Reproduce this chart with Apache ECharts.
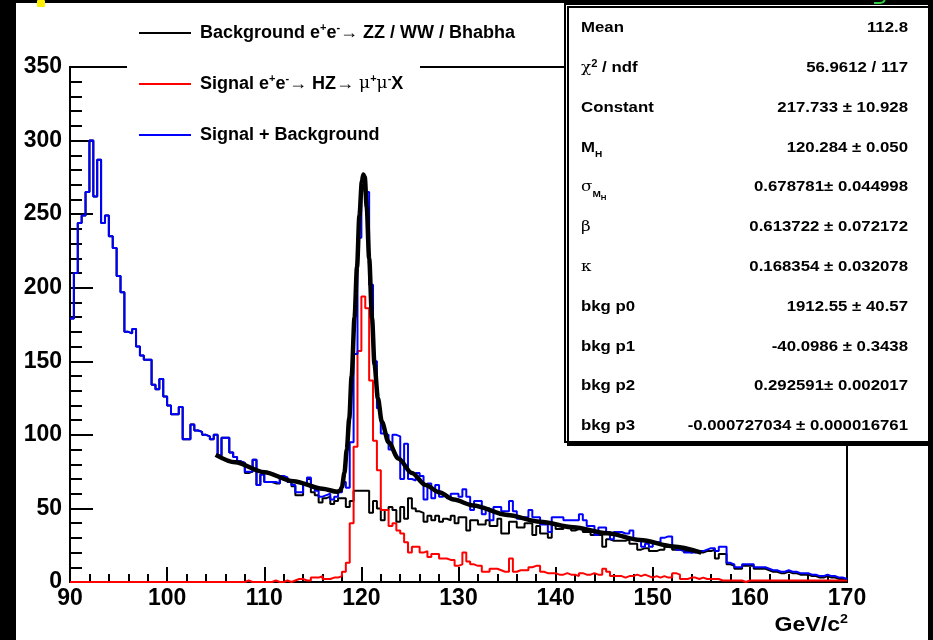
<!DOCTYPE html>
<html>
<head>
<meta charset="utf-8">
<script src="https://cdn.jsdelivr.net/npm/echarts@6/dist/echarts.min.js"></script>
<style>
  html, body { margin: 0; padding: 0; background: #000; width: 933px; height: 640px; overflow: hidden; }
  body { position: relative; }
  #chart { position: absolute; left: 16px; top: 3px; width: 912px; height: 637px; }
  #dotY { position: absolute; left: 37px; top: 0; width: 8px; height: 7px; background: #ffef00; border-radius: 1px; z-index: 5; }
  #dotG { position: absolute; left: 874px; top: -6px; width: 10px; height: 8px; border: 2px solid #2ecc40; border-top: none; border-left: none; border-radius: 0 0 6px 0; z-index: 5; }
</style>
</head>
<body>
<div id="chart"></div>
<div id="dotY"></div>
<div id="dotG"></div>
<script>
// Dimuon recoil mass histograms, 0.4 GeV bins from 90 to 170 GeV/c^2
const massLow = 90;
const binWidth = 0.4;

// Signal + Background (blue)
const combined = [
  179, 210, 244, 249, 265, 300, 262, 287, 244, 249,
  235, 227, 208, 197, 170, 169, 172, 160, 154, 151,
  151, 134, 131, 138, 126, 120, 114, 114, 119, 97,
  97, 107, 103, 102, 100, 99, 97, 100, 86, 98,
  98, 88, 85, 82, 81, 75, 75, 83, 66, 73,
  68, 68, 68, 67, 72, 71, 68, 66, 61, 61,
  67, 71, 64, 62, 58, 59, 60, 56, 58, 61,
  68, 64, 95, 155, 234, 272, 265, 202, 150, 118,
  101, 100, 90, 100, 99, 70, 94, 70, 69, 74,
  72, 56, 67, 57, 66, 58, 59, 57, 60, 60,
  58, 63, 58, 49, 55, 55, 46, 50, 42, 51,
  51, 48, 48, 55, 48, 43, 44, 44, 49, 44,
  44, 39, 39, 34, 44, 44, 44, 42, 42, 42,
  42, 46, 42, 38, 38, 32, 37, 37, 34, 29,
  34, 34, 33, 33, 35, 29, 29, 24, 26, 24,
  27, 27, 30, 31, 31, 24, 22, 22, 20, 20,
  20, 21, 21, 22, 23, 23, 21, 24, 24, 13,
  12, 10, 10, 12, 12, 12, 10, 10, 10, 9,
  8, 8, 7, 7, 8, 7, 7, 6, 6, 6,
  5, 5, 4, 4, 5, 4, 4, 3, 3, 2
];

// Background e+e- -> ZZ / WW / Bhabha (black)
const background = [
  179, 210, 244, 249, 265, 300, 262, 287, 244, 249,
  235, 227, 208, 197, 170, 169, 172, 160, 154, 151,
  151, 134, 131, 138, 126, 120, 114, 114, 119, 97,
  97, 107, 103, 102, 100, 99, 97, 100, 86, 98,
  98, 88, 85, 82, 81, 74, 75, 83, 66, 73,
  68, 68, 67, 67, 72, 70, 68, 65, 59, 59,
  66, 70, 61, 59, 54, 57, 58, 53, 55, 57,
  57, 51, 55, 62, 62, 62, 62, 47, 55, 50,
  42, 49, 51, 49, 41, 51, 43, 57, 50, 48,
  47, 41, 45, 42, 45, 41, 43, 42, 45, 40,
  44, 44, 35, 42, 42, 39, 39, 42, 38, 38,
  43, 33, 33, 41, 41, 37, 37, 40, 40, 32,
  38, 33, 33, 30, 39, 36, 36, 38, 38, 35,
  36, 36, 34, 34, 32, 32, 32, 24, 29, 28,
  28, 28, 28, 29, 26, 26, 22, 23, 23, 21,
  21, 22, 22, 24, 24, 22, 22, 21, 21, 20,
  21, 20, 20, 21, 21, 22, 16, 19, 19, 12,
  11, 9, 9, 11, 11, 11, 9, 9, 9, 8,
  7, 7, 6, 6, 7, 6, 6, 5, 5, 5,
  4, 4, 3, 3, 4, 3, 3, 2, 2, 2
];

// Signal e+e- -> HZ -> mu+ mu- X (red)
const signal = [
  0, 0, 0, 0, 0, 0, 0, 0, 0, 0,
  0, 0, 0, 0, 0, 0, 0, 0, 0, 0,
  0, 0, 0, 0, 0, 0, 0, 0, 0, 0,
  0, 0, 0, 0, 0, 0, 0, 0, 0, 0,
  0, 0, 0, 0, 0, 1, 0, 0, 0, 0,
  0, 0, 1, 0, 0, 1, 0, 1, 2, 2,
  1, 1, 3, 3, 4, 2, 2, 3, 3, 4,
  7, 13, 40, 92, 157, 194, 186, 137, 96, 76,
  49, 49, 38, 40, 35, 33, 27, 20, 24, 24,
  20, 21, 17, 19, 19, 16, 16, 15, 15, 11,
  12, 20, 14, 12, 11, 11, 7, 7, 9, 9,
  8, 7, 7, 16, 7, 8, 8, 8, 10, 11,
  11, 7, 6, 6, 6, 5, 5, 6, 5, 5,
  4, 6, 5, 5, 6, 5, 5, 9, 7, 4,
  4, 4, 3, 4, 4, 5, 4, 5, 4, 3,
  4, 3, 4, 3, 3, 6, 5, 2, 2, 3,
  3, 2, 3, 2, 2, 2, 2, 1, 1, 1,
  1, 1, 1, 0, 1, 1, 1, 1, 1, 1,
  1, 1, 1, 1, 1, 1, 1, 1, 1, 1,
  1, 1, 1, 1, 1, 1, 1, 1, 1, 1
];

// Fitted signal + polynomial background, 105-155 GeV/c^2
const fitMass = [105, 107, 110, 113, 116, 117.5, 117.8, 118.0, 118.25, 118.5, 118.75, 119.0, 119.3, 119.55, 119.8,
  120.05, 120.2, 120.35, 120.55, 120.8, 121.1, 121.35, 121.7, 122.1, 122.8, 123.8, 125.2, 126.6, 128, 129.5,
  131.5, 135, 138.4, 141.8, 145.3, 148.7, 152.1, 155];
const fitCount = [86.4, 81.3, 74.6, 68.5, 63.4, 61.3, 62, 64.5, 74, 90, 111, 140, 180, 214, 249,
  272, 277, 275, 255, 220, 179, 148, 125, 109, 95, 84, 74, 66, 61, 56,
  52, 45.6, 41, 37.2, 33.1, 28.6, 24.2, 20];

// Legend entries
const seriesNames = ['Background', 'Signal', 'Signal + Background'];
const legendTexts = [
  'Background e{sup|+}e{sup|-}\u2192 ZZ / WW / Bhabha',
  'Signal e{sup|+}e{sup|-}\u2192 HZ\u2192 {mu|\u03bc}{sup|+}{mu|\u03bc}{sup|-}X',
  'Signal + Background'
];

// Fit statistics panel
const statLabels = [
  'Mean',
  '{sym|\u03c7}{sup|2} / ndf',
  'Constant',
  'M{sub|H}',
  '{sym|\u03c3}{sub|M}{subsub|H}',
  '{sym|\u03b2}',
  '{sym|\u03ba}',
  'bkg p0',
  'bkg p1',
  'bkg p2',
  'bkg p3'
];
const statValues = [
  '112.8',
  '56.9612 / 117',
  '217.733 \u00b1 10.928',
  '120.284 \u00b1 0.050',
  '0.678781\u00b1 0.044998',
  '0.613722 \u00b1 0.072172',
  '0.168354 \u00b1 0.032078',
  '1912.55 \u00b1 40.57',
  '-40.0986 \u00b1 0.3438',
  '0.292591\u00b1 0.002017',
  '-0.000727034 \u00b1 0.000016761'
];

const axisTitle = 'GeV/c{sup|2}';

const FONT = 'Liberation Sans, Arial, Helvetica, sans-serif';
const SYMBOL_FONT = 'DejaVu Serif, Liberation Serif, serif';

function histPoints(values) {
  const pts = values.map((v, i) => [+(massLow + i * binWidth).toFixed(1), v]);
  pts.push([+(massLow + values.length * binWidth).toFixed(1), values[values.length - 1]]);
  return pts;
}

function histSeries(name, values, color, z) {
  return {
    name: name,
    type: 'line',
    step: 'end',
    data: histPoints(values),
    symbol: 'none',
    color: color,
    itemStyle: { color: color },
    lineStyle: { color: color, width: 2 },
    z: z,
    clip: true,
    silent: true,
    animation: false
  };
}

const chart = echarts.init(document.getElementById('chart'), null, { renderer: 'canvas' });

const statTextRich = {
  sym: { fontFamily: SYMBOL_FONT, fontSize: 15, fontWeight: 'normal', lineHeight: 18, verticalAlign: 'middle' },
  sup: { fontFamily: FONT, fontSize: 10, fontWeight: 'bold', lineHeight: 10, verticalAlign: 'top' },
  sub: { fontFamily: FONT, fontSize: 9, fontWeight: 'bold', lineHeight: 9, verticalAlign: 'bottom', padding: [0, 0, -3, 0] },
  subsub: { fontFamily: FONT, fontSize: 7, fontWeight: 'bold', lineHeight: 7, verticalAlign: 'bottom', padding: [0, 0, -5, 0] }
};

const statsTop = 25;
const statsStep = 39.8;
const statsElements = [];
statLabels.forEach((lab, i) => {
  statsElements.push({
    type: 'text', x: 565, y: statsTop + i * statsStep, z: 41, scaleX: 1.12,
    style: { text: lab, fontFamily: FONT, fontSize: 15, fontWeight: 'bold', fill: '#000',
      align: 'left', verticalAlign: 'middle', lineHeight: 18, rich: statTextRich }
  });
  statsElements.push({
    type: 'text', x: 892, y: statsTop + i * statsStep, z: 41, scaleX: 1.12,
    style: { text: statValues[i], fontFamily: FONT, fontSize: 15, fontWeight: 'bold', fill: '#000',
      align: 'right', verticalAlign: 'middle' }
  });
});

const option = {
  backgroundColor: '#ffffff',
  animation: false,
  grid: { left: 54, right: 81, top: 64, bottom: 58, show: true, borderColor: '#000', borderWidth: 2, backgroundColor: 'transparent' },
  xAxis: {
    type: 'value', min: 90, max: 170, interval: 10,
    axisLine: { show: true, lineStyle: { color: '#000', width: 2 } },
    axisTick: { show: true, inside: true, length: 15, lineStyle: { color: '#000', width: 2 } },
    minorTick: { show: true, splitNumber: 5, length: 8, lineStyle: { color: '#000', width: 2 } },
    splitLine: { show: false },
    minorSplitLine: { show: false },
    axisLabel: { color: '#000', fontFamily: FONT, fontSize: 23, fontWeight: 'bold', margin: 5 }
  },
  yAxis: {
    type: 'value', min: 0, max: 350, interval: 50,
    axisLine: { show: true, lineStyle: { color: '#000', width: 2 } },
    axisTick: { show: true, inside: true, length: 23, lineStyle: { color: '#000', width: 2 } },
    minorTick: { show: true, splitNumber: 5, length: 12, lineStyle: { color: '#000', width: 2 } },
    splitLine: { show: false },
    minorSplitLine: { show: false },
    axisLabel: { color: '#000', fontFamily: FONT, fontSize: 23, fontWeight: 'bold', margin: 8 }
  },
  legend: {
    show: true,
    orient: 'vertical',
    left: 123, top: 19,
    padding: 0,
    itemWidth: 52, itemHeight: 2, itemGap: 29,
    icon: 'rect',
    z: 30,
    selectedMode: false,
    data: seriesNames,
    formatter: name => legendTexts[seriesNames.indexOf(name)],
    textStyle: {
      color: '#000', fontFamily: FONT, fontSize: 18, fontWeight: 'bold', lineHeight: 22, padding: [0, 0, 0, 4],
      rich: {
        sup: { fontFamily: FONT, fontSize: 11, fontWeight: 'bold', lineHeight: 11, verticalAlign: 'top' },
        mu: { fontFamily: SYMBOL_FONT, fontSize: 17, fontWeight: 'normal', lineHeight: 22 }
      }
    }
  },
  series: [
    histSeries(seriesNames[0], background, '#000000', 3),
    histSeries(seriesNames[1], signal, '#ff0000', 4),
    histSeries(seriesNames[2], combined, '#0000ff', 5),
    {
      name: 'Fit',
      type: 'line',
      data: fitMass.map((m, i) => [m, fitCount[i]]),
      symbol: 'none',
      smooth: 0.3,
      smoothMonotone: 'x',
      color: '#000',
      lineStyle: { color: '#000', width: 4.5 },
      z: 6,
      silent: true,
      animation: false
    }
  ],
  graphic: {
    elements: [
      // legend pad hides the upper frame behind the key
      { type: 'rect', z: 20, shape: { x: 111, y: 8, width: 293, height: 146 }, style: { fill: '#fff' } },
      // statistics box
      { type: 'rect', z: 40, shape: { x: 549, y: 1, width: 380, height: 438 },
        style: { fill: '#fff', stroke: '#000', lineWidth: 2, shadowColor: '#000', shadowOffsetX: 3, shadowOffsetY: 3, shadowBlur: 0 } },
      ...statsElements,
      // x-axis title
      { type: 'text', x: 832, y: 622, z: 41, scaleX: 1.1,
        style: { text: axisTitle, fontFamily: FONT, fontSize: 21, fontWeight: 'bold', fill: '#000', align: 'right', verticalAlign: 'middle', lineHeight: 24,
          rich: { sup: { fontFamily: FONT, fontSize: 13, fontWeight: 'bold', lineHeight: 13, verticalAlign: 'top' } } } }
    ]
  }
};

chart.setOption(option);
</script>
</body>
</html>
